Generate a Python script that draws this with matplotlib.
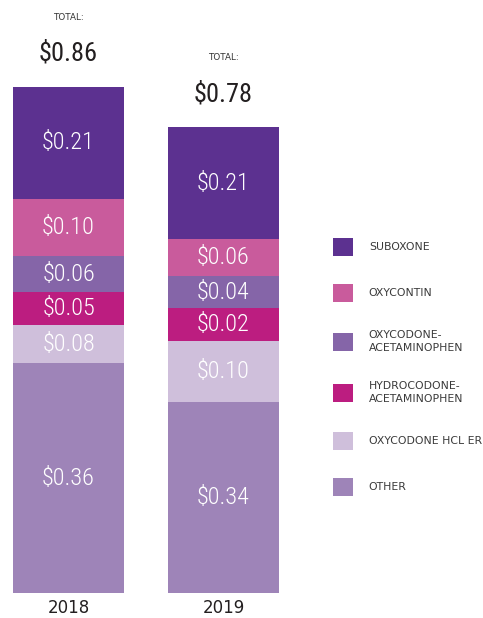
import matplotlib
matplotlib.use('Agg')
import matplotlib.pyplot as plt
from matplotlib import font_manager
from matplotlib.patches import Patch

# ---------------- data ----------------
years = ['2018', '2019']
# stacking order, bottom to top
categories = ['OTHER', 'OXYCODONE HCL ER', 'HYDROCODONE-\nACETAMINOPHEN',
              'OXYCODONE-\nACETAMINOPHEN', 'OXYCONTIN', 'SUBOXONE']
values_2018 = [0.36, 0.08, 0.05, 0.06, 0.10, 0.21]
values_2019 = [0.34, 0.10, 0.02, 0.04, 0.06, 0.21]
totals = [0.86, 0.78]
# segment heights as drawn in the reference infographic (not proportional to labels)
drawn_2018 = [0.390, 0.064, 0.056, 0.061, 0.098, 0.190]
drawn_2019 = [0.324, 0.103, 0.056, 0.054, 0.063, 0.190]
colors = ['#9e84b8', '#cfbfdb', '#bc1d80', '#8565a8', '#c95b9c', '#5c3190']

# ---------------- fonts ----------------
names = {f.name for f in font_manager.fontManager.ttflist}
cond_family = None
cond_stretch = 'normal'
for cand in ['Roboto Condensed', 'Open Sans Condensed', 'Liberation Sans Narrow',
             'Noto Sans Condensed', 'DejaVu Sans Condensed']:
    if cand in names:
        cond_family = cand
        break
if cond_family is None:
    cond_family = 'DejaVu Sans'
    cond_stretch = 'condensed'
body_family = 'DejaVu Sans'

W, H = 483, 618
fig = plt.figure(figsize=(W / 100, H / 100), dpi=100)
ax = fig.add_axes([0, 0, 1, 1])
ax.set_xlim(-68.5 / 155, (W - 68.5) / 155)
ax.set_ylim(-25 / 589.5, (H - 25) / 589.5)
ax.axis('off')

x = [0, 1]
width = 111 / 155
drawn = [drawn_2018, drawn_2019]
vals = [values_2018, values_2019]

for i in range(2):
    bottom = 0.0
    for j in range(len(categories)):
        h = drawn[i][j]
        ax.bar(x[i], h, width=width, bottom=bottom, color=colors[j],
               edgecolor='none', linewidth=0)
        ax.text(x[i], bottom + h / 2, f'${vals[i][j]:.2f}', ha='center', va='center',
                color='white', fontsize=17.5, family=cond_family,
                fontstretch=cond_stretch, fontweight='light')
        bottom += h
    top = bottom
    ax.annotate(f'${totals[i]:.2f}', xy=(x[i], top), xytext=(0, 24),
                textcoords='offset points', ha='center', va='center',
                color='#231f20', fontsize=19, family=cond_family,
                fontstretch=cond_stretch)
    ax.annotate('TOTAL:', xy=(x[i], top), xytext=(0, 50),
                textcoords='offset points', ha='center', va='center',
                color='#333333', fontsize=6.3, family=body_family)
    ax.annotate(years[i], xy=(x[i], 0), xytext=(0, -11),
                textcoords='offset points', ha='center', va='center',
                color='#231f20', fontsize=12, family=body_family)

handles = [Patch(facecolor=c, edgecolor='none', label=l)
           for c, l in zip(colors[::-1], categories[::-1])]
leg = ax.legend(handles=handles, loc='upper left',
                bbox_to_anchor=(333 / W, 1 - 238 / H), bbox_transform=fig.transFigure,
                frameon=False, borderpad=0, borderaxespad=0,
                handlelength=1.85, handleheight=2.15, handletextpad=1.45,
                labelspacing=2.6, prop={'family': body_family, 'size': 7.8})
for t in leg.get_texts():
    t.set_color('#3a3a3a')
    t.set_linespacing(1.35)

fig.savefig('out.png', dpi=100, facecolor='white')
